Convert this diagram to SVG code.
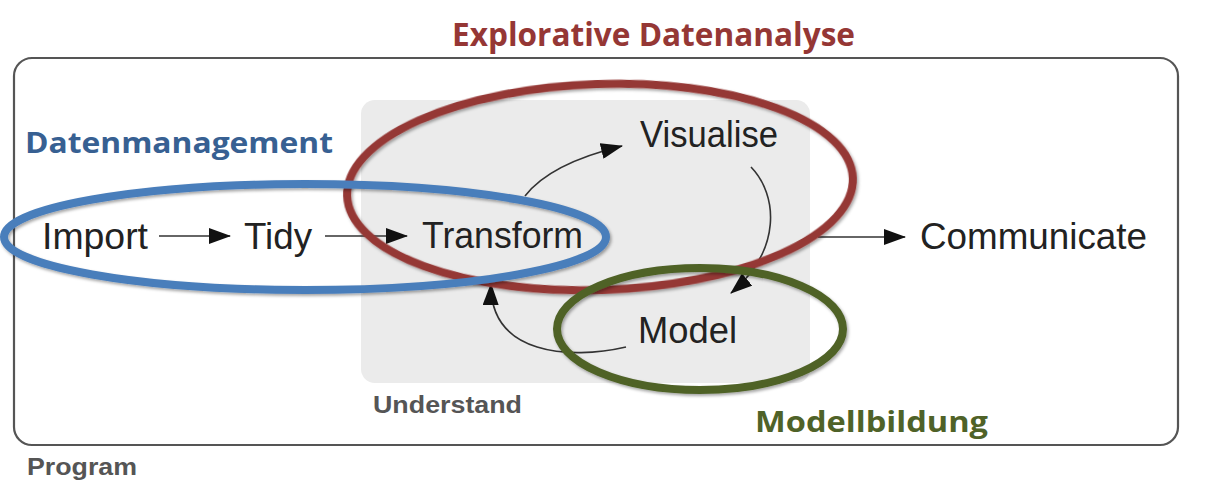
<svg xmlns="http://www.w3.org/2000/svg" width="1206" height="490" viewBox="0 0 1206 490">
  <style>
    .lbl { font-family: "Liberation Sans", Arial, sans-serif; font-size: 36px; fill: #222; }
    .cap { font-family: "Liberation Sans", Arial, sans-serif; font-size: 23px; font-weight: bold; fill: #555; }
    .hl { font-family: "Open Sans", "Noto Sans", sans-serif; font-weight: bold; }
    .conn { fill: none; stroke: #333; stroke-width: 1.6; marker-end: url(#arr); }
    .ring { fill: none; stroke-width: 8; filter: url(#sh); }
  </style>
  <defs>
    <marker id="arr" markerUnits="userSpaceOnUse" markerWidth="22" markerHeight="16" viewBox="0 0 22 16" refX="21" refY="8" orient="auto">
      <path d="M0,0 L22,8 L0,16 z" fill="#111"/>
    </marker>
    <filter id="sh" x="-10%" y="-10%" width="120%" height="130%">
      <feDropShadow dx="1.5" dy="2" stdDeviation="1.5" flood-color="#000" flood-opacity="0.35"/>
    </filter>
  </defs>
  <rect width="1206" height="490" fill="#fff"/>

  <g id="program">
    <rect x="14" y="58" width="1164" height="387" rx="18" fill="#fff" stroke="#555" stroke-width="2.2"/>
    <text class="cap" x="27" y="475" textLength="110" lengthAdjust="spacingAndGlyphs">Program</text>
  </g>

  <g id="understand">
    <rect x="361" y="100" width="449" height="283" rx="14" fill="#ebebeb"/>
    <text class="cap" x="373" y="413" textLength="149" lengthAdjust="spacingAndGlyphs">Understand</text>
  </g>

  <g id="import"><text class="lbl" x="42" y="249" textLength="106" lengthAdjust="spacingAndGlyphs">Import</text></g>
  <g id="tidy"><text class="lbl" x="244" y="249" textLength="68" lengthAdjust="spacingAndGlyphs">Tidy</text></g>
  <g id="transform"><text class="lbl" x="422" y="248" textLength="161" lengthAdjust="spacingAndGlyphs">Transform</text></g>
  <g id="visualise"><text class="lbl" x="640" y="147" textLength="138" lengthAdjust="spacingAndGlyphs">Visualise</text></g>
  <g id="model"><text class="lbl" x="638" y="343" textLength="99" lengthAdjust="spacingAndGlyphs">Model</text></g>
  <g id="communicate"><text class="lbl" x="920" y="249" textLength="227" lengthAdjust="spacingAndGlyphs">Communicate</text></g>

  <g id="connectors">
    <path class="conn" d="M159,236 L230,236"/>
    <path class="conn" d="M325,236 L407,236"/>
    <path class="conn" d="M525,196 C545,170 585,155 622,146"/>
    <path class="conn" d="M751,167 C778,195 782,250 731,293"/>
    <path class="conn" d="M626,347 C570,360 490,355 491,284"/>
    <path class="conn" d="M818,237 L905,237"/>
  </g>

  <g id="explorative">
    <ellipse class="ring" cx="600" cy="187" rx="253" ry="103" transform="rotate(-2 600 187)" stroke="#953735"/>
    <text class="hl" x="452" y="46" font-size="32.5" fill="#953735" textLength="403" lengthAdjust="spacingAndGlyphs">Explorative Datenanalyse</text>
  </g>

  <g id="datenmanagement">
    <ellipse class="ring" cx="305" cy="237" rx="301" ry="53" stroke="#4a7ebb"/>
    <text class="hl" x="25" y="153" font-size="29" fill="#376092" textLength="308" lengthAdjust="spacingAndGlyphs">Datenmanagement</text>
  </g>

  <g id="modellbildung">
    <ellipse class="ring" cx="700" cy="329" rx="143" ry="61" stroke="#4f6228"/>
    <text class="hl" x="755" y="432" font-size="29" fill="#4f6228" textLength="233" lengthAdjust="spacingAndGlyphs">Modellbildung</text>
  </g>
</svg>
